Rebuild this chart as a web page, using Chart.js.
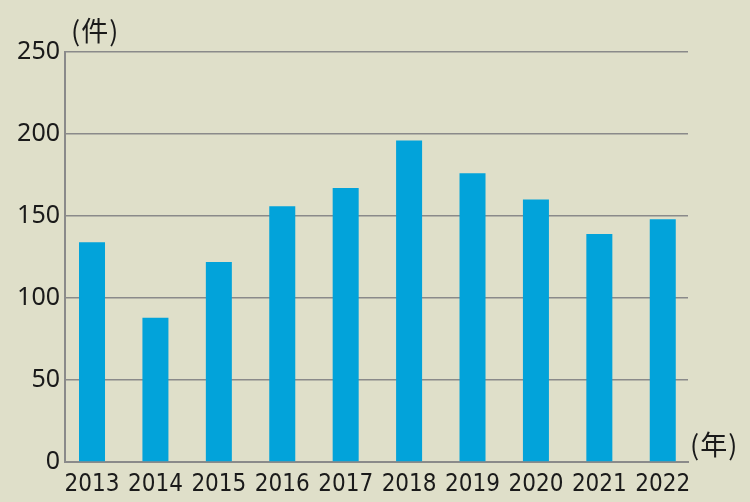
<!DOCTYPE html>
<html>
<head>
<meta charset="utf-8">
<script src="https://cdn.jsdelivr.net/npm/chart.js@4"></script>
<style>
html,body{margin:0;padding:0;background:#dfdfc9;}
#wrap{width:750px;height:502px;position:relative;}
</style>
</head>
<body>
<div id="wrap"><canvas id="c" width="750" height="502"></canvas></div>
<script>
const years = ['2013','2014','2015','2016','2017','2018','2019','2020','2021','2022'];
const counts = [134, 88, 122, 156, 167, 196, 176, 160, 139, 148];
const yTicks = [0, 50, 100, 150, 200, 250];
const yUnit = '(件)';
const xUnit = '(年)';

const points = years.map((y, i) => ({x: i, y: counts[i]}));

const unitPlugin = {
  id: 'units',
  afterDraw(chart) {
    const ctx = chart.ctx;
    const ya = chart.scales.y;
    ctx.save();
    ctx.fillStyle = '#1a1a1a';
    ctx.font = '27px "Noto Sans CJK JP", "Noto Sans", sans-serif';
    if ('letterSpacing' in ctx) ctx.letterSpacing = '1px';
    ctx.textBaseline = 'middle';
    ctx.textAlign = 'left';
    ctx.fillText(yUnit, 71, ya.getPixelForValue(250) - 21);
    ctx.fillText(xUnit, 690, ya.getPixelForValue(0) - 17);
    ctx.restore();
  }
};

new Chart(document.getElementById('c'), {
  type: 'bar',
  data: {
    datasets: [{
      data: points,
      backgroundColor: '#02a3da',
      borderWidth: 0,
      barPercentage: 0.41,
      categoryPercentage: 1
    }]
  },
  options: {
    responsive: false,
    animation: false,
    events: [],
    layout: {padding: {top: 52, right: 62, left: 0, bottom: 0}},
    plugins: {legend: {display: false}, tooltip: {enabled: false}},
    scales: {
      x: {
        type: 'linear',
        min: -0.426,
        max: 9.398,
        offset: false,
        afterBuildTicks(scale) { scale.ticks = years.map((y, i) => ({value: i})); },
        afterFit(scale) { scale.height = 40; },
        grid: {display: false, drawTicks: false},
        border: {display: true, color: '#8a8a8a', width: 2},
        ticks: {
          callback: (v) => years[v],
          color: '#1a1a1a',
          font: {family: '"Liberation Sans Narrow", "DejaVu Sans Condensed", sans-serif', size: 24},
          padding: 8,
          maxRotation: 0,
          autoSkip: false
        }
      },
      y: {
        min: 0,
        max: 250,
        afterBuildTicks(scale) { scale.ticks = yTicks.map(v => ({value: v})); },
        afterFit(scale) { scale.width = 65; },
        grid: {color: '#8a8a8a', lineWidth: 1.6, drawTicks: false},
        border: {display: true, color: '#8a8a8a', width: 2},
        ticks: {
          color: '#1a1a1a',
          font: {family: '"Noto Sans", sans-serif', size: 25},
          padding: 5
        }
      }
    }
  },
  plugins: [unitPlugin]
});
</script>
</body>
</html>
